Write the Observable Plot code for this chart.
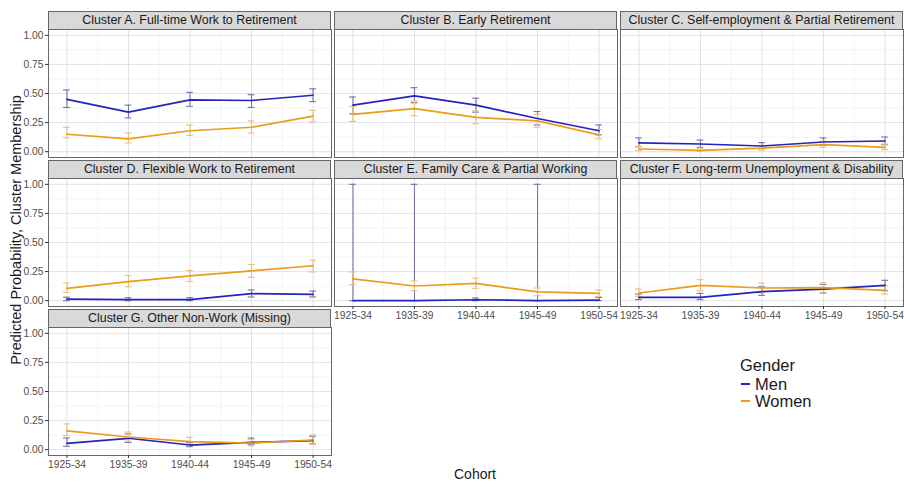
<!DOCTYPE html>
<html>
<head>
<meta charset="utf-8">
<script src="https://cdn.jsdelivr.net/npm/d3@7"></script>
<script src="https://cdn.jsdelivr.net/npm/@observablehq/plot@0.6"></script>
<style>
  html, body { margin: 0; padding: 0; background: #ffffff; }
  #chart { position: relative; width: 904px; height: 481px; background: #ffffff; font-family: "Liberation Sans", Arial, sans-serif; overflow: hidden; }
  .abs { position: absolute; }
  .strip { position: absolute; box-sizing: border-box; background: #d9d9d9; border: 1px solid #666666; color: #1a1a1a; font-size: 12.4px; text-align: center; line-height: 17px; white-space: nowrap; }
  .lbl { position: absolute; white-space: nowrap; color: #1a1a1a; line-height: 1; }
</style>
</head>
<body>
<div id="chart"></div>
<script>
// ---- data ----
const cohorts = ["1925-34", "1935-39", "1940-44", "1945-49", "1950-54"];
const genders = ["Men", "Women"];
const clusters = [
  "Cluster A. Full-time Work to Retirement",
  "Cluster B. Early Retirement",
  "Cluster C. Self-employment & Partial Retirement",
  "Cluster D. Flexible Work to Retirement",
  "Cluster E. Family Care & Partial Working",
  "Cluster F. Long-term Unemployment & Disability",
  "Cluster G. Other Non-Work (Missing)"
];
const yTicks = [0, 0.25, 0.5, 0.75, 1];
const yMinor = [0.125, 0.375, 0.625, 0.875];
const xMinor = [1.5, 2.5, 3.5, 4.5];

const menEst = [
  [0.45, 0.34, 0.445, 0.44, 0.485],
  [0.40, 0.48, 0.40, 0.285, 0.18],
  [0.075, 0.066, 0.049, 0.083, 0.092],
  [0.014, 0.009, 0.009, 0.06, 0.055],
  [0.001, 0.001, 0.008, 0.001, 0.005],
  [0.029, 0.029, 0.078, 0.10, 0.132],
  [0.055, 0.098, 0.04, 0.063, 0.078]
];
const menLo = [
  [0.38, 0.29, 0.39, 0.38, 0.43],
  [0.325, 0.42, 0.34, 0.23, 0.145],
  [0.043, 0.037, 0.026, 0.055, 0.06],
  [0.0, 0.0, 0.0, 0.032, 0.032],
  [0.0, 0.0, 0.0, 0.0, 0.0],
  [0.009, 0.009, 0.046, 0.066, 0.086],
  [0.029, 0.063, 0.026, 0.043, 0.049]
];
const menHi = [
  [0.53, 0.40, 0.51, 0.49, 0.54],
  [0.47, 0.55, 0.46, 0.345, 0.23],
  [0.118, 0.10, 0.078, 0.118, 0.126],
  [0.03, 0.026, 0.026, 0.092, 0.083],
  [1.0, 1.0, 0.023, 1.0, 0.029],
  [0.057, 0.063, 0.12, 0.14, 0.175],
  [0.10, 0.135, 0.06, 0.10, 0.115]
];
const womenEst = [
  [0.15, 0.11, 0.18, 0.21, 0.305],
  [0.32, 0.37, 0.295, 0.265, 0.145],
  [0.023, 0.012, 0.03, 0.06, 0.037],
  [0.106, 0.164, 0.213, 0.256, 0.30],
  [0.187, 0.126, 0.149, 0.075, 0.063],
  [0.066, 0.132, 0.109, 0.112, 0.089],
  [0.161, 0.109, 0.069, 0.057, 0.083]
];
const womenLo = [
  [0.12, 0.075, 0.14, 0.16, 0.255],
  [0.26, 0.31, 0.24, 0.21, 0.11],
  [0.009, 0.003, 0.014, 0.037, 0.017],
  [0.072, 0.12, 0.164, 0.20, 0.247],
  [0.138, 0.086, 0.106, 0.043, 0.037],
  [0.037, 0.086, 0.069, 0.072, 0.057],
  [0.121, 0.072, 0.04, 0.032, 0.046]
];
const womenHi = [
  [0.21, 0.16, 0.23, 0.265, 0.355],
  [0.39, 0.435, 0.35, 0.32, 0.19],
  [0.046, 0.03, 0.046, 0.092, 0.066],
  [0.152, 0.216, 0.259, 0.31, 0.348],
  [0.247, 0.17, 0.195, 0.109, 0.092],
  [0.10, 0.181, 0.152, 0.155, 0.126],
  [0.221, 0.152, 0.106, 0.089, 0.126]
];

// ---- styling ----
const lineColor = {Men: "#2424bc", Women: "#ea9c1c"};
const barColor = {Men: "#7474a8", Women: "#e8c07a"};
const colLeft = [48, 334, 620];
const panelW = 283;
const stripTop = [11, 160, 309];
const stripH = 18;
const panelH = 128;
const capHalf = 0.055;

const chart = document.getElementById("chart");

function rowsFor(i, g) {
  const est = g === "Men" ? menEst[i] : womenEst[i];
  const lo = g === "Men" ? menLo[i] : womenLo[i];
  const hi = g === "Men" ? menHi[i] : womenHi[i];
  return cohorts.map((c, j) => ({cohort: c, x: j + 1, est: est[j], lo: lo[j], hi: hi[j], gender: g}));
}

clusters.forEach((title, i) => {
  const row = Math.floor(i / 3), col = i % 3;
  const showY = col === 0;
  const showX = i >= 4;
  const mL = showY ? 48 : 1, mR = 1, mT = 1, mB = showX ? 22 : 1;
  const marks = [
    Plot.ruleX(xMinor, {stroke: "#efeff3", strokeWidth: 0.7}),
    Plot.ruleY(yMinor, {stroke: "#efeff3", strokeWidth: 0.7}),
    Plot.ruleX([1, 2, 3, 4, 5], {stroke: "#e2e2e8", strokeWidth: 1}),
    Plot.ruleY(yTicks, {stroke: "#e2e2e8", strokeWidth: 1})
  ];
  for (const g of genders) {
    const d = rowsFor(i, g);
    marks.push(
      Plot.ruleX(d, {x: "x", y1: "lo", y2: "hi", stroke: barColor[g], strokeWidth: 1.1}),
      Plot.ruleY(d, {y: "hi", x1: r => r.x - capHalf, x2: r => r.x + capHalf, stroke: barColor[g], strokeWidth: 1.1}),
      Plot.ruleY(d, {y: "lo", x1: r => r.x - capHalf, x2: r => r.x + capHalf, stroke: barColor[g], strokeWidth: 1.1})
    );
  }
  for (const g of genders) {
    marks.push(Plot.line(rowsFor(i, g), {x: "x", y: "est", stroke: lineColor[g], strokeWidth: 1.7}));
  }
  marks.push(Plot.frame({stroke: "#666666", strokeWidth: 1}));
  if (showY) {
    marks.push(Plot.axisY(yTicks, {tickFormat: d3.format(".2f"), tickSize: 3, tickPadding: 2, label: null, fontSize: 10.3, stroke: "#333333", fill: "#4d4d4d"}));
  }
  if (showX) {
    marks.push(Plot.axisX([1, 2, 3, 4, 5], {tickFormat: v => cohorts[v - 1], tickSize: 3, tickPadding: 2, label: null, fontSize: 10.3, stroke: "#333333", fill: "#4d4d4d"}));
  }
  const svg = Plot.plot({
    width: mL + panelW + mR,
    height: mT + panelH + mB,
    marginLeft: mL, marginRight: mR, marginTop: mT, marginBottom: mB,
    x: {type: "linear", domain: [0.7, 5.3], axis: null},
    y: {type: "linear", domain: [-0.05, 1.05], axis: null},
    style: {fontFamily: "'Liberation Sans', Arial, sans-serif", fontSize: "10px", color: "#4d4d4d", background: "transparent", overflow: "visible"},
    marks
  });
  svg.style.position = "absolute";
  svg.style.left = (colLeft[col] - mL) + "px";
  svg.style.top = (stripTop[row] + stripH - mT) + "px";
  chart.appendChild(svg);

  const strip = document.createElement("div");
  strip.className = "strip";
  strip.style.left = colLeft[col] + "px";
  strip.style.top = stripTop[row] + "px";
  strip.style.width = panelW + "px";
  strip.style.height = (stripH + 1) + "px";
  strip.textContent = title;
  chart.appendChild(strip);
});

// axis titles
const yt = document.createElement("div");
yt.className = "lbl";
yt.style.fontSize = "14.5px";
yt.style.left = "16px";
yt.style.top = "230px";
yt.style.transform = "translate(-50%, -50%) rotate(-90deg)";
yt.textContent = "Predicted Probability, Cluster Membership";
chart.appendChild(yt);

const xt = document.createElement("div");
xt.className = "lbl";
xt.style.fontSize = "14px";
xt.style.left = "475px";
xt.style.top = "474px";
xt.style.transform = "translate(-50%, -50%)";
xt.textContent = "Cohort";
chart.appendChild(xt);

// legend
const lt = document.createElement("div");
lt.className = "lbl";
lt.style.fontSize = "16.5px";
lt.style.left = "740px";
lt.style.top = "365px";
lt.style.transform = "translateY(-50%)";
lt.textContent = "Gender";
chart.appendChild(lt);

const legendY = {Men: 384, Women: 401};
for (const g of genders) {
  const key = document.createElement("div");
  key.className = "abs";
  key.style.left = "741px";
  key.style.top = (legendY[g] - 1) + "px";
  key.style.width = "9px";
  key.style.height = "2px";
  key.style.background = lineColor[g];
  chart.appendChild(key);
  const t = document.createElement("div");
  t.className = "lbl";
  t.style.fontSize = "16.5px";
  t.style.left = "755px";
  t.style.top = legendY[g] + "px";
  t.style.transform = "translateY(-50%)";
  t.textContent = g;
  chart.appendChild(t);
}
</script>
</body>
</html>
